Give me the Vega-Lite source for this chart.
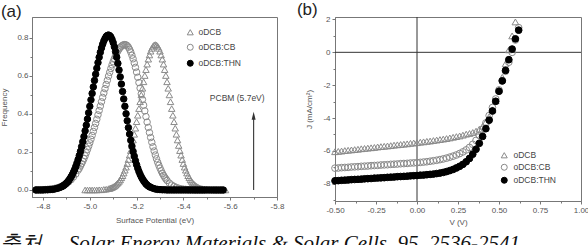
{
"$schema":"https://vega.github.io/schema/vega-lite/v6.json",
"padding":{"left":0,"top":0,"right":0,"bottom":0},
"background":"white",
"config":{
 "font":"Liberation Sans",
 "view":{"stroke":"#777","strokeWidth":1},
 "axis":{"labelFont":"Liberation Sans","labelFontSize":8,"labelColor":"#555","titleFont":"Liberation Sans","titleFontSize":8,"titleFontWeight":"normal","titleColor":"#555","tickColor":"#777","tickSize":3,"domainColor":"#777","grid":false,"labelPadding":2,"labelOverlap":false,"labelFlush":false,"labelExpr":"replace(datum.label, '\u2212', '-')"},
 "legend":{"padding":0,"labelFont":"Liberation Sans","labelFontSize":8.5,"labelColor":"#444"}
},
"datasets":{
"a":[
{"s":"oDCB","x":-4.98,"y":0},{"s":"oDCB","x":-4.99,"y":0},{"s":"oDCB","x":-5.0,"y":0},{"s":"oDCB","x":-5.01,"y":0},{"s":"oDCB","x":-5.02,"y":0},{"s":"oDCB","x":-5.03,"y":0},{"s":"oDCB","x":-5.04,"y":0.001},{"s":"oDCB","x":-5.05,"y":0.001},{"s":"oDCB","x":-5.06,"y":0.003},{"s":"oDCB","x":-5.07,"y":0.004},{"s":"oDCB","x":-5.08,"y":0.007},
{"s":"oDCB","x":-5.085,"y":0.008},{"s":"oDCB","x":-5.09,"y":0.011},{"s":"oDCB","x":-5.095,"y":0.013},{"s":"oDCB","x":-5.1,"y":0.017},{"s":"oDCB","x":-5.105,"y":0.02},{"s":"oDCB","x":-5.11,"y":0.025},{"s":"oDCB","x":-5.115,"y":0.031},{"s":"oDCB","x":-5.12,"y":0.037},{"s":"oDCB","x":-5.125,"y":0.045},{"s":"oDCB","x":-5.13,"y":0.053},{"s":"oDCB","x":-5.135,"y":0.064},{"s":"oDCB","x":-5.14,"y":0.075},{"s":"oDCB","x":-5.145,"y":0.089},{"s":"oDCB","x":-5.15,"y":0.104},{"s":"oDCB","x":-5.155,"y":0.12},{"s":"oDCB","x":-5.16,"y":0.139},{"s":"oDCB","x":-5.165,"y":0.16},{"s":"oDCB","x":-5.17,"y":0.183},{"s":"oDCB","x":-5.175,"y":0.207},{"s":"oDCB","x":-5.18,"y":0.234},{"s":"oDCB","x":-5.185,"y":0.263},{"s":"oDCB","x":-5.19,"y":0.293},{"s":"oDCB","x":-5.195,"y":0.325},{"s":"oDCB","x":-5.2,"y":0.359},{"s":"oDCB","x":-5.205,"y":0.393},{"s":"oDCB","x":-5.21,"y":0.428},{"s":"oDCB","x":-5.215,"y":0.464},{"s":"oDCB","x":-5.22,"y":0.5},{"s":"oDCB","x":-5.225,"y":0.535},{"s":"oDCB","x":-5.23,"y":0.569},{"s":"oDCB","x":-5.235,"y":0.602},{"s":"oDCB","x":-5.24,"y":0.633},{"s":"oDCB","x":-5.245,"y":0.662},{"s":"oDCB","x":-5.25,"y":0.688},{"s":"oDCB","x":-5.255,"y":0.71},{"s":"oDCB","x":-5.26,"y":0.73},{"s":"oDCB","x":-5.265,"y":0.745},{"s":"oDCB","x":-5.27,"y":0.756},{"s":"oDCB","x":-5.275,"y":0.763},{"s":"oDCB","x":-5.28,"y":0.765},
{"s":"oDCB","x":-5.285,"y":0.763},{"s":"oDCB","x":-5.29,"y":0.756},{"s":"oDCB","x":-5.295,"y":0.745},{"s":"oDCB","x":-5.3,"y":0.73},{"s":"oDCB","x":-5.305,"y":0.71},{"s":"oDCB","x":-5.31,"y":0.688},{"s":"oDCB","x":-5.315,"y":0.662},{"s":"oDCB","x":-5.32,"y":0.633},{"s":"oDCB","x":-5.325,"y":0.602},{"s":"oDCB","x":-5.33,"y":0.569},{"s":"oDCB","x":-5.335,"y":0.535},{"s":"oDCB","x":-5.34,"y":0.5},{"s":"oDCB","x":-5.345,"y":0.464},{"s":"oDCB","x":-5.35,"y":0.428},{"s":"oDCB","x":-5.355,"y":0.393},{"s":"oDCB","x":-5.36,"y":0.359},{"s":"oDCB","x":-5.365,"y":0.325},{"s":"oDCB","x":-5.37,"y":0.293},{"s":"oDCB","x":-5.375,"y":0.263},{"s":"oDCB","x":-5.38,"y":0.234},{"s":"oDCB","x":-5.385,"y":0.207},{"s":"oDCB","x":-5.39,"y":0.183},{"s":"oDCB","x":-5.395,"y":0.16},{"s":"oDCB","x":-5.4,"y":0.139},{"s":"oDCB","x":-5.405,"y":0.12},{"s":"oDCB","x":-5.41,"y":0.104},{"s":"oDCB","x":-5.415,"y":0.089},{"s":"oDCB","x":-5.42,"y":0.075},{"s":"oDCB","x":-5.425,"y":0.064},{"s":"oDCB","x":-5.43,"y":0.053},{"s":"oDCB","x":-5.435,"y":0.045},{"s":"oDCB","x":-5.44,"y":0.037},{"s":"oDCB","x":-5.445,"y":0.031},{"s":"oDCB","x":-5.45,"y":0.025},{"s":"oDCB","x":-5.455,"y":0.02},{"s":"oDCB","x":-5.46,"y":0.017},{"s":"oDCB","x":-5.465,"y":0.013},{"s":"oDCB","x":-5.47,"y":0.011},{"s":"oDCB","x":-5.475,"y":0.008},{"s":"oDCB","x":-5.48,"y":0.007},{"s":"oDCB","x":-5.49,"y":0.004},{"s":"oDCB","x":-5.5,"y":0.003},{"s":"oDCB","x":-5.51,"y":0.001},{"s":"oDCB","x":-5.52,"y":0.001},{"s":"oDCB","x":-5.53,"y":0},{"s":"oDCB","x":-5.54,"y":0},{"s":"oDCB","x":-5.55,"y":0},{"s":"oDCB","x":-5.56,"y":0},{"s":"oDCB","x":-5.57,"y":0},{"s":"oDCB","x":-5.58,"y":0},
{"s":"oDCB:CB","x":-4.77,"y":0},{"s":"oDCB:CB","x":-4.78,"y":0.001},{"s":"oDCB:CB","x":-4.79,"y":0.001},{"s":"oDCB:CB","x":-4.8,"y":0.002},{"s":"oDCB:CB","x":-4.81,"y":0.002},{"s":"oDCB:CB","x":-4.82,"y":0.003},{"s":"oDCB:CB","x":-4.83,"y":0.005},{"s":"oDCB:CB","x":-4.84,"y":0.006},{"s":"oDCB:CB","x":-4.85,"y":0.008},{"s":"oDCB:CB","x":-4.86,"y":0.011},{"s":"oDCB:CB","x":-4.87,"y":0.015},{"s":"oDCB:CB","x":-4.88,"y":0.02},{"s":"oDCB:CB","x":-4.89,"y":0.026},{"s":"oDCB:CB","x":-4.9,"y":0.034},{"s":"oDCB:CB","x":-4.91,"y":0.043},{"s":"oDCB:CB","x":-4.92,"y":0.054},{"s":"oDCB:CB","x":-4.93,"y":0.068},{"s":"oDCB:CB","x":-4.94,"y":0.084},{"s":"oDCB:CB","x":-4.95,"y":0.104},
{"s":"oDCB:CB","x":-4.955,"y":0.114},{"s":"oDCB:CB","x":-4.96,"y":0.126},{"s":"oDCB:CB","x":-4.965,"y":0.138},{"s":"oDCB:CB","x":-4.97,"y":0.151},{"s":"oDCB:CB","x":-4.975,"y":0.165},{"s":"oDCB:CB","x":-4.98,"y":0.18},{"s":"oDCB:CB","x":-4.985,"y":0.196},{"s":"oDCB:CB","x":-4.99,"y":0.213},{"s":"oDCB:CB","x":-4.995,"y":0.23},{"s":"oDCB:CB","x":-5.0,"y":0.248},{"s":"oDCB:CB","x":-5.005,"y":0.267},{"s":"oDCB:CB","x":-5.01,"y":0.287},{"s":"oDCB:CB","x":-5.015,"y":0.308},{"s":"oDCB:CB","x":-5.02,"y":0.329},{"s":"oDCB:CB","x":-5.025,"y":0.35},{"s":"oDCB:CB","x":-5.03,"y":0.372},{"s":"oDCB:CB","x":-5.035,"y":0.395},{"s":"oDCB:CB","x":-5.04,"y":0.418},{"s":"oDCB:CB","x":-5.045,"y":0.441},{"s":"oDCB:CB","x":-5.05,"y":0.464},{"s":"oDCB:CB","x":-5.055,"y":0.487},{"s":"oDCB:CB","x":-5.06,"y":0.51},{"s":"oDCB:CB","x":-5.065,"y":0.533},{"s":"oDCB:CB","x":-5.07,"y":0.555},{"s":"oDCB:CB","x":-5.075,"y":0.577},{"s":"oDCB:CB","x":-5.08,"y":0.599},{"s":"oDCB:CB","x":-5.085,"y":0.619},{"s":"oDCB:CB","x":-5.09,"y":0.639},{"s":"oDCB:CB","x":-5.095,"y":0.658},{"s":"oDCB:CB","x":-5.1,"y":0.675},{"s":"oDCB:CB","x":-5.105,"y":0.691},{"s":"oDCB:CB","x":-5.11,"y":0.706},{"s":"oDCB:CB","x":-5.115,"y":0.72},{"s":"oDCB:CB","x":-5.12,"y":0.731},{"s":"oDCB:CB","x":-5.125,"y":0.741},{"s":"oDCB:CB","x":-5.13,"y":0.75},{"s":"oDCB:CB","x":-5.135,"y":0.756},{"s":"oDCB:CB","x":-5.14,"y":0.761},{"s":"oDCB:CB","x":-5.145,"y":0.764},{"s":"oDCB:CB","x":-5.15,"y":0.765},
{"s":"oDCB:CB","x":-5.155,"y":0.763},{"s":"oDCB:CB","x":-5.16,"y":0.759},{"s":"oDCB:CB","x":-5.165,"y":0.751},{"s":"oDCB:CB","x":-5.17,"y":0.74},{"s":"oDCB:CB","x":-5.175,"y":0.726},{"s":"oDCB:CB","x":-5.18,"y":0.709},{"s":"oDCB:CB","x":-5.185,"y":0.69},{"s":"oDCB:CB","x":-5.19,"y":0.668},{"s":"oDCB:CB","x":-5.195,"y":0.645},{"s":"oDCB:CB","x":-5.2,"y":0.62},{"s":"oDCB:CB","x":-5.205,"y":0.593},{"s":"oDCB:CB","x":-5.21,"y":0.565},{"s":"oDCB:CB","x":-5.215,"y":0.536},{"s":"oDCB:CB","x":-5.22,"y":0.506},{"s":"oDCB:CB","x":-5.225,"y":0.476},{"s":"oDCB:CB","x":-5.23,"y":0.446},{"s":"oDCB:CB","x":-5.235,"y":0.416},{"s":"oDCB:CB","x":-5.24,"y":0.386},{"s":"oDCB:CB","x":-5.245,"y":0.357},{"s":"oDCB:CB","x":-5.25,"y":0.329},{"s":"oDCB:CB","x":-5.255,"y":0.302},{"s":"oDCB:CB","x":-5.26,"y":0.276},{"s":"oDCB:CB","x":-5.265,"y":0.251},{"s":"oDCB:CB","x":-5.27,"y":0.227},{"s":"oDCB:CB","x":-5.275,"y":0.205},{"s":"oDCB:CB","x":-5.28,"y":0.184},{"s":"oDCB:CB","x":-5.285,"y":0.164},{"s":"oDCB:CB","x":-5.29,"y":0.146},{"s":"oDCB:CB","x":-5.295,"y":0.13},{"s":"oDCB:CB","x":-5.3,"y":0.115},{"s":"oDCB:CB","x":-5.305,"y":0.101},{"s":"oDCB:CB","x":-5.31,"y":0.088},{"s":"oDCB:CB","x":-5.315,"y":0.077},{"s":"oDCB:CB","x":-5.32,"y":0.067},{"s":"oDCB:CB","x":-5.325,"y":0.058},{"s":"oDCB:CB","x":-5.33,"y":0.05},{"s":"oDCB:CB","x":-5.34,"y":0.036},{"s":"oDCB:CB","x":-5.35,"y":0.026},{"s":"oDCB:CB","x":-5.36,"y":0.019},{"s":"oDCB:CB","x":-5.37,"y":0.013},{"s":"oDCB:CB","x":-5.38,"y":0.009},{"s":"oDCB:CB","x":-5.39,"y":0.006},{"s":"oDCB:CB","x":-5.4,"y":0.004},{"s":"oDCB:CB","x":-5.41,"y":0.003},{"s":"oDCB:CB","x":-5.42,"y":0.002},{"s":"oDCB:CB","x":-5.43,"y":0.001},{"s":"oDCB:CB","x":-5.44,"y":0.001},{"s":"oDCB:CB","x":-5.45,"y":0},{"s":"oDCB:CB","x":-5.46,"y":0},{"s":"oDCB:CB","x":-5.47,"y":0},{"s":"oDCB:CB","x":-5.48,"y":0},{"s":"oDCB:CB","x":-5.49,"y":0},
{"s":"oDCB:THN","x":-4.77,"y":0},{"s":"oDCB:THN","x":-4.78,"y":0},{"s":"oDCB:THN","x":-4.79,"y":0},{"s":"oDCB:THN","x":-4.8,"y":0},{"s":"oDCB:THN","x":-4.81,"y":0.001},{"s":"oDCB:THN","x":-4.82,"y":0.001},{"s":"oDCB:THN","x":-4.83,"y":0.002},{"s":"oDCB:THN","x":-4.84,"y":0.003},{"s":"oDCB:THN","x":-4.85,"y":0.005},{"s":"oDCB:THN","x":-4.86,"y":0.008},{"s":"oDCB:THN","x":-4.87,"y":0.012},{"s":"oDCB:THN","x":-4.88,"y":0.017},
{"s":"oDCB:THN","x":-4.885,"y":0.021},{"s":"oDCB:THN","x":-4.89,"y":0.025},{"s":"oDCB:THN","x":-4.895,"y":0.03},{"s":"oDCB:THN","x":-4.9,"y":0.036},{"s":"oDCB:THN","x":-4.905,"y":0.042},{"s":"oDCB:THN","x":-4.91,"y":0.05},{"s":"oDCB:THN","x":-4.915,"y":0.059},{"s":"oDCB:THN","x":-4.92,"y":0.069},{"s":"oDCB:THN","x":-4.925,"y":0.08},{"s":"oDCB:THN","x":-4.93,"y":0.093},{"s":"oDCB:THN","x":-4.935,"y":0.107},{"s":"oDCB:THN","x":-4.94,"y":0.123},{"s":"oDCB:THN","x":-4.945,"y":0.141},{"s":"oDCB:THN","x":-4.95,"y":0.16},{"s":"oDCB:THN","x":-4.955,"y":0.181},{"s":"oDCB:THN","x":-4.96,"y":0.203},{"s":"oDCB:THN","x":-4.965,"y":0.228},{"s":"oDCB:THN","x":-4.97,"y":0.254},{"s":"oDCB:THN","x":-4.975,"y":0.281},{"s":"oDCB:THN","x":-4.98,"y":0.311},{"s":"oDCB:THN","x":-4.985,"y":0.341},{"s":"oDCB:THN","x":-4.99,"y":0.373},{"s":"oDCB:THN","x":-4.995,"y":0.406},{"s":"oDCB:THN","x":-5.0,"y":0.44},{"s":"oDCB:THN","x":-5.005,"y":0.474},{"s":"oDCB:THN","x":-5.01,"y":0.508},{"s":"oDCB:THN","x":-5.015,"y":0.542},{"s":"oDCB:THN","x":-5.02,"y":0.576},{"s":"oDCB:THN","x":-5.025,"y":0.609},{"s":"oDCB:THN","x":-5.03,"y":0.64},{"s":"oDCB:THN","x":-5.035,"y":0.67},{"s":"oDCB:THN","x":-5.04,"y":0.698},{"s":"oDCB:THN","x":-5.045,"y":0.724},{"s":"oDCB:THN","x":-5.05,"y":0.747},{"s":"oDCB:THN","x":-5.055,"y":0.767},{"s":"oDCB:THN","x":-5.06,"y":0.784},{"s":"oDCB:THN","x":-5.065,"y":0.797},{"s":"oDCB:THN","x":-5.07,"y":0.807},{"s":"oDCB:THN","x":-5.075,"y":0.813},{"s":"oDCB:THN","x":-5.08,"y":0.815},
{"s":"oDCB:THN","x":-5.085,"y":0.812},{"s":"oDCB:THN","x":-5.09,"y":0.805},{"s":"oDCB:THN","x":-5.095,"y":0.792},{"s":"oDCB:THN","x":-5.1,"y":0.775},{"s":"oDCB:THN","x":-5.105,"y":0.753},{"s":"oDCB:THN","x":-5.11,"y":0.728},{"s":"oDCB:THN","x":-5.115,"y":0.698},{"s":"oDCB:THN","x":-5.12,"y":0.666},{"s":"oDCB:THN","x":-5.125,"y":0.631},{"s":"oDCB:THN","x":-5.13,"y":0.595},{"s":"oDCB:THN","x":-5.135,"y":0.557},{"s":"oDCB:THN","x":-5.14,"y":0.518},{"s":"oDCB:THN","x":-5.145,"y":0.479},{"s":"oDCB:THN","x":-5.15,"y":0.44},{"s":"oDCB:THN","x":-5.155,"y":0.401},{"s":"oDCB:THN","x":-5.16,"y":0.364},{"s":"oDCB:THN","x":-5.165,"y":0.328},{"s":"oDCB:THN","x":-5.17,"y":0.294},{"s":"oDCB:THN","x":-5.175,"y":0.261},{"s":"oDCB:THN","x":-5.18,"y":0.231},{"s":"oDCB:THN","x":-5.185,"y":0.203},{"s":"oDCB:THN","x":-5.19,"y":0.178},{"s":"oDCB:THN","x":-5.195,"y":0.154},{"s":"oDCB:THN","x":-5.2,"y":0.133},{"s":"oDCB:THN","x":-5.205,"y":0.114},{"s":"oDCB:THN","x":-5.21,"y":0.097},{"s":"oDCB:THN","x":-5.215,"y":0.082},{"s":"oDCB:THN","x":-5.22,"y":0.069},{"s":"oDCB:THN","x":-5.225,"y":0.058},{"s":"oDCB:THN","x":-5.23,"y":0.048},{"s":"oDCB:THN","x":-5.235,"y":0.04},{"s":"oDCB:THN","x":-5.24,"y":0.032},{"s":"oDCB:THN","x":-5.245,"y":0.026},{"s":"oDCB:THN","x":-5.25,"y":0.021},{"s":"oDCB:THN","x":-5.255,"y":0.017},{"s":"oDCB:THN","x":-5.26,"y":0.014},{"s":"oDCB:THN","x":-5.27,"y":0.009},{"s":"oDCB:THN","x":-5.28,"y":0.005},{"s":"oDCB:THN","x":-5.29,"y":0.003},{"s":"oDCB:THN","x":-5.3,"y":0.002},{"s":"oDCB:THN","x":-5.31,"y":0.001},{"s":"oDCB:THN","x":-5.32,"y":0.001},{"s":"oDCB:THN","x":-5.33,"y":0},{"s":"oDCB:THN","x":-5.34,"y":0},{"s":"oDCB:THN","x":-5.35,"y":0},{"s":"oDCB:THN","x":-5.36,"y":0},{"s":"oDCB:THN","x":-5.37,"y":0},{"s":"oDCB:THN","x":-5.38,"y":0},{"s":"oDCB:THN","x":-5.39,"y":0},{"s":"oDCB:THN","x":-5.4,"y":0},{"s":"oDCB:THN","x":-5.41,"y":0},{"s":"oDCB:THN","x":-5.42,"y":0},{"s":"oDCB:THN","x":-5.43,"y":0},{"s":"oDCB:THN","x":-5.44,"y":0},{"s":"oDCB:THN","x":-5.45,"y":0},{"s":"oDCB:THN","x":-5.46,"y":0},{"s":"oDCB:THN","x":-5.47,"y":0},{"s":"oDCB:THN","x":-5.48,"y":0},{"s":"oDCB:THN","x":-5.49,"y":0},{"s":"oDCB:THN","x":-5.5,"y":0},{"s":"oDCB:THN","x":-5.51,"y":0},{"s":"oDCB:THN","x":-5.52,"y":0},{"s":"oDCB:THN","x":-5.53,"y":0},{"s":"oDCB:THN","x":-5.54,"y":0},{"s":"oDCB:THN","x":-5.55,"y":0},{"s":"oDCB:THN","x":-5.56,"y":0},{"s":"oDCB:THN","x":-5.57,"y":0}
],
"b":[
{"s":"oDCB","x":-0.5,"y":-6.05},{"s":"oDCB","x":-0.48,"y":-6.03},{"s":"oDCB","x":-0.46,"y":-6.01},{"s":"oDCB","x":-0.44,"y":-5.98},{"s":"oDCB","x":-0.42,"y":-5.96},{"s":"oDCB","x":-0.4,"y":-5.94},{"s":"oDCB","x":-0.38,"y":-5.92},{"s":"oDCB","x":-0.36,"y":-5.9},{"s":"oDCB","x":-0.34,"y":-5.87},{"s":"oDCB","x":-0.32,"y":-5.85},{"s":"oDCB","x":-0.3,"y":-5.83},{"s":"oDCB","x":-0.28,"y":-5.81},{"s":"oDCB","x":-0.26,"y":-5.79},{"s":"oDCB","x":-0.24,"y":-5.76},{"s":"oDCB","x":-0.22,"y":-5.74},{"s":"oDCB","x":-0.2,"y":-5.72},{"s":"oDCB","x":-0.18,"y":-5.7},{"s":"oDCB","x":-0.16,"y":-5.68},{"s":"oDCB","x":-0.14,"y":-5.65},{"s":"oDCB","x":-0.12,"y":-5.63},{"s":"oDCB","x":-0.1,"y":-5.61},{"s":"oDCB","x":-0.08,"y":-5.59},{"s":"oDCB","x":-0.06,"y":-5.57},{"s":"oDCB","x":-0.04,"y":-5.54},{"s":"oDCB","x":-0.02,"y":-5.52},{"s":"oDCB","x":0,"y":-5.5},{"s":"oDCB","x":0.02,"y":-5.47},{"s":"oDCB","x":0.04,"y":-5.45},{"s":"oDCB","x":0.06,"y":-5.42},{"s":"oDCB","x":0.08,"y":-5.4},{"s":"oDCB","x":0.1,"y":-5.37},{"s":"oDCB","x":0.12,"y":-5.34},{"s":"oDCB","x":0.14,"y":-5.31},{"s":"oDCB","x":0.16,"y":-5.28},{"s":"oDCB","x":0.18,"y":-5.25},{"s":"oDCB","x":0.2,"y":-5.21},{"s":"oDCB","x":0.22,"y":-5.17},{"s":"oDCB","x":0.24,"y":-5.13},{"s":"oDCB","x":0.26,"y":-5.09},{"s":"oDCB","x":0.28,"y":-5.04},{"s":"oDCB","x":0.3,"y":-4.98},{"s":"oDCB","x":0.32,"y":-4.94},{"s":"oDCB","x":0.34,"y":-4.88},{"s":"oDCB","x":0.36,"y":-4.8},{"s":"oDCB","x":0.38,"y":-4.68},{"s":"oDCB","x":0.4,"y":-4.5},{"s":"oDCB","x":0.42,"y":-4.25},{"s":"oDCB","x":0.44,"y":-3.92},{"s":"oDCB","x":0.46,"y":-3.5},{"s":"oDCB","x":0.48,"y":-2.95},{"s":"oDCB","x":0.5,"y":-2.3},{"s":"oDCB","x":0.52,"y":-1.52},{"s":"oDCB","x":0.54,"y":-0.7},{"s":"oDCB","x":0.56,"y":0.15},{"s":"oDCB","x":0.58,"y":1.0},{"s":"oDCB","x":0.6,"y":1.85},
{"s":"oDCB:CB","x":-0.5,"y":-7.05},{"s":"oDCB:CB","x":-0.48,"y":-7.04},{"s":"oDCB:CB","x":-0.46,"y":-7.02},{"s":"oDCB:CB","x":-0.44,"y":-7.01},{"s":"oDCB:CB","x":-0.42,"y":-7.0},{"s":"oDCB:CB","x":-0.4,"y":-6.98},{"s":"oDCB:CB","x":-0.38,"y":-6.97},{"s":"oDCB:CB","x":-0.36,"y":-6.96},{"s":"oDCB:CB","x":-0.34,"y":-6.94},{"s":"oDCB:CB","x":-0.32,"y":-6.93},{"s":"oDCB:CB","x":-0.3,"y":-6.92},{"s":"oDCB:CB","x":-0.28,"y":-6.9},{"s":"oDCB:CB","x":-0.26,"y":-6.89},{"s":"oDCB:CB","x":-0.24,"y":-6.88},{"s":"oDCB:CB","x":-0.22,"y":-6.86},{"s":"oDCB:CB","x":-0.2,"y":-6.85},{"s":"oDCB:CB","x":-0.18,"y":-6.84},{"s":"oDCB:CB","x":-0.16,"y":-6.82},{"s":"oDCB:CB","x":-0.14,"y":-6.81},{"s":"oDCB:CB","x":-0.12,"y":-6.8},{"s":"oDCB:CB","x":-0.1,"y":-6.78},{"s":"oDCB:CB","x":-0.08,"y":-6.77},{"s":"oDCB:CB","x":-0.06,"y":-6.76},{"s":"oDCB:CB","x":-0.04,"y":-6.74},{"s":"oDCB:CB","x":-0.02,"y":-6.73},{"s":"oDCB:CB","x":0,"y":-6.72},{"s":"oDCB:CB","x":0.02,"y":-6.7},{"s":"oDCB:CB","x":0.04,"y":-6.68},{"s":"oDCB:CB","x":0.06,"y":-6.66},{"s":"oDCB:CB","x":0.08,"y":-6.63},{"s":"oDCB:CB","x":0.1,"y":-6.6},{"s":"oDCB:CB","x":0.12,"y":-6.57},{"s":"oDCB:CB","x":0.14,"y":-6.53},{"s":"oDCB:CB","x":0.16,"y":-6.49},{"s":"oDCB:CB","x":0.18,"y":-6.44},{"s":"oDCB:CB","x":0.2,"y":-6.38},{"s":"oDCB:CB","x":0.22,"y":-6.32},{"s":"oDCB:CB","x":0.24,"y":-6.25},{"s":"oDCB:CB","x":0.26,"y":-6.16},{"s":"oDCB:CB","x":0.28,"y":-6.06},{"s":"oDCB:CB","x":0.3,"y":-5.94},{"s":"oDCB:CB","x":0.32,"y":-5.79},{"s":"oDCB:CB","x":0.34,"y":-5.6},{"s":"oDCB:CB","x":0.36,"y":-5.36},{"s":"oDCB:CB","x":0.38,"y":-5.06},{"s":"oDCB:CB","x":0.4,"y":-4.7},{"s":"oDCB:CB","x":0.42,"y":-4.3},{"s":"oDCB:CB","x":0.44,"y":-3.85},{"s":"oDCB:CB","x":0.46,"y":-3.36},{"s":"oDCB:CB","x":0.48,"y":-2.84},{"s":"oDCB:CB","x":0.5,"y":-2.29},{"s":"oDCB:CB","x":0.52,"y":-1.72},{"s":"oDCB:CB","x":0.54,"y":-1.15},{"s":"oDCB:CB","x":0.56,"y":-0.6},{"s":"oDCB:CB","x":0.58,"y":0.0},{"s":"oDCB:CB","x":0.6,"y":0.75},{"s":"oDCB:CB","x":0.62,"y":1.5},
{"s":"oDCB:THN","x":-0.5,"y":-7.82},{"s":"oDCB:THN","x":-0.48,"y":-7.81},{"s":"oDCB:THN","x":-0.46,"y":-7.79},{"s":"oDCB:THN","x":-0.44,"y":-7.78},{"s":"oDCB:THN","x":-0.42,"y":-7.77},{"s":"oDCB:THN","x":-0.4,"y":-7.75},{"s":"oDCB:THN","x":-0.38,"y":-7.74},{"s":"oDCB:THN","x":-0.36,"y":-7.73},{"s":"oDCB:THN","x":-0.34,"y":-7.72},{"s":"oDCB:THN","x":-0.32,"y":-7.7},{"s":"oDCB:THN","x":-0.3,"y":-7.69},{"s":"oDCB:THN","x":-0.28,"y":-7.68},{"s":"oDCB:THN","x":-0.26,"y":-7.66},{"s":"oDCB:THN","x":-0.24,"y":-7.65},{"s":"oDCB:THN","x":-0.22,"y":-7.64},{"s":"oDCB:THN","x":-0.2,"y":-7.63},{"s":"oDCB:THN","x":-0.18,"y":-7.61},{"s":"oDCB:THN","x":-0.16,"y":-7.6},{"s":"oDCB:THN","x":-0.14,"y":-7.59},{"s":"oDCB:THN","x":-0.12,"y":-7.57},{"s":"oDCB:THN","x":-0.1,"y":-7.56},{"s":"oDCB:THN","x":-0.08,"y":-7.55},{"s":"oDCB:THN","x":-0.06,"y":-7.54},{"s":"oDCB:THN","x":-0.04,"y":-7.52},{"s":"oDCB:THN","x":-0.02,"y":-7.51},{"s":"oDCB:THN","x":0,"y":-7.5},{"s":"oDCB:THN","x":0.02,"y":-7.48},{"s":"oDCB:THN","x":0.04,"y":-7.47},{"s":"oDCB:THN","x":0.06,"y":-7.45},{"s":"oDCB:THN","x":0.08,"y":-7.43},{"s":"oDCB:THN","x":0.1,"y":-7.41},{"s":"oDCB:THN","x":0.12,"y":-7.38},{"s":"oDCB:THN","x":0.14,"y":-7.35},{"s":"oDCB:THN","x":0.16,"y":-7.31},{"s":"oDCB:THN","x":0.18,"y":-7.26},{"s":"oDCB:THN","x":0.2,"y":-7.2},{"s":"oDCB:THN","x":0.22,"y":-7.13},{"s":"oDCB:THN","x":0.24,"y":-7.04},{"s":"oDCB:THN","x":0.26,"y":-6.94},{"s":"oDCB:THN","x":0.28,"y":-6.82},{"s":"oDCB:THN","x":0.3,"y":-6.66},{"s":"oDCB:THN","x":0.32,"y":-6.46},{"s":"oDCB:THN","x":0.34,"y":-6.2},{"s":"oDCB:THN","x":0.36,"y":-5.9},{"s":"oDCB:THN","x":0.38,"y":-5.54},{"s":"oDCB:THN","x":0.4,"y":-5.12},{"s":"oDCB:THN","x":0.42,"y":-4.65},{"s":"oDCB:THN","x":0.44,"y":-4.13},{"s":"oDCB:THN","x":0.46,"y":-3.57},{"s":"oDCB:THN","x":0.48,"y":-2.98},{"s":"oDCB:THN","x":0.5,"y":-2.37},{"s":"oDCB:THN","x":0.52,"y":-1.74},{"s":"oDCB:THN","x":0.54,"y":-1.1},{"s":"oDCB:THN","x":0.56,"y":-0.45},{"s":"oDCB:THN","x":0.58,"y":0.2},{"s":"oDCB:THN","x":0.6,"y":0.82},{"s":"oDCB:THN","x":0.62,"y":1.35}
]
},
"bounds":"flush",
"spacing":58,
"title":{"text":"출처\u3000 Solar Energy Materials & Solar Cells, 95, 2536-2541","orient":"bottom","anchor":"start","frame":"bounds","font":"Liberation Serif","fontStyle":"italic","fontWeight":"normal","fontSize":21,"color":"#111","offset":6},
"resolve":{"scale":{"shape":"independent","fill":"independent","stroke":"independent"},"legend":{"shape":"independent","fill":"independent","stroke":"independent"}},
"hconcat":[
{
 "width":245,"height":180,
 "title":{"text":"(a)","anchor":"start","frame":"bounds","fontSize":17,"fontWeight":"normal","color":"#222","font":"Liberation Sans","offset":-4},
 "resolve":{"axis":{"x":"independent","y":"independent"}},
 "layer":[
  {"data":{"name":"a"},
   "mark":{"type":"point","filled":true,"size":42,"strokeWidth":1,"opacity":1},
   "encoding":{
    "x":{"field":"x","type":"quantitative","scale":{"domain":[-5.8,-4.753],"reverse":true,"nice":false,"zero":false},"axis":{"orient":"bottom","title":"Surface Potential (eV)","values":[-4.8,-5.0,-5.2,-5.4,-5.6,-5.8],"format":".1f","titlePadding":6}},
    "y":{"field":"y","type":"quantitative","scale":{"domain":[-0.037,0.91],"nice":false,"zero":false},"axis":{"orient":"left","title":"Frequency","values":[0,0.2,0.4,0.6,0.8],"format":".1f","titlePadding":8,"labelPadding":1}},
    "shape":{"field":"s","type":"nominal","scale":{"domain":["oDCB","oDCB:CB","oDCB:THN"],"range":["triangle-up","circle","circle"]},"legend":{"title":null,"orient":"none","legendX":154,"legendY":11,"rowPadding":5,"symbolSize":36,"labelOffset":4,"symbolStrokeWidth":1}},
    "fill":{"field":"s","type":"nominal","scale":{"domain":["oDCB","oDCB:CB","oDCB:THN"],"range":["transparent","transparent","#000000"]},"legend":{"title":null,"orient":"none","legendX":154,"legendY":11,"rowPadding":5,"symbolSize":36,"labelOffset":4,"symbolStrokeWidth":1}},
    "stroke":{"field":"s","type":"nominal","scale":{"domain":["oDCB","oDCB:CB","oDCB:THN"],"range":["#8a8a8a","#8a8a8a","#000000"]},"legend":{"title":null,"orient":"none","legendX":154,"legendY":11,"rowPadding":5,"symbolSize":36,"labelOffset":4,"symbolStrokeWidth":1}}
   }
  },
  {"data":{"values":[{"x":-5.7,"y":0,"y2":0.39}]},
   "mark":{"type":"rule","color":"#444","strokeWidth":1.2},
   "encoding":{"x":{"field":"x","type":"quantitative","axis":{"orient":"bottom","values":[-4.9,-5.1,-5.3,-5.5,-5.7],"labels":false,"title":null,"domain":false,"tickSize":2}},"y":{"field":"y","type":"quantitative","axis":{"orient":"left","values":[0.1,0.3,0.5,0.7],"labels":false,"title":null,"domain":false,"tickSize":2}},"y2":{"field":"y2"}}},
  {"data":{"values":[{"x":-5.7,"y":0.39}]},
   "mark":{"type":"point","shape":"M-0.5,1L0,-1L0.5,1Z","size":64,"filled":true,"color":"#333","opacity":1},
   "encoding":{"x":{"field":"x","type":"quantitative","axis":null},"y":{"field":"y","type":"quantitative","axis":null}}},
  {"data":{"values":[{"x":-5.63,"y":0.485,"t":"PCBM (5.7eV)"}]},
   "mark":{"type":"text","fontSize":8.5,"color":"#444","font":"Liberation Sans","align":"center","baseline":"middle"},
   "encoding":{"x":{"field":"x","type":"quantitative","axis":null},"y":{"field":"y","type":"quantitative","axis":null},"text":{"field":"t"}}}
 ]
},
{
 "width":246,"height":184,
 "title":{"text":"(b)","anchor":"start","frame":"bounds","fontSize":17,"fontWeight":"normal","color":"#222","font":"Liberation Sans","offset":-4,"dx":-9},
 "resolve":{"axis":{"x":"independent","y":"independent"}},
 "layer":[
  {"data":{"values":[{"x":0}]},
   "mark":{"type":"rule","color":"#333","strokeWidth":1},
   "encoding":{"x":{"field":"x","type":"quantitative","axis":{"orient":"bottom","values":[-0.375,-0.125,0.125,0.375,0.625,0.875],"labels":false,"title":null,"domain":false,"tickSize":2}}}},
  {"data":{"values":[{"y":0}]},
   "mark":{"type":"rule","color":"#333","strokeWidth":1},
   "encoding":{"y":{"field":"y","type":"quantitative","axis":{"orient":"left","values":[-9,-7,-5,-3,-1,1],"labels":false,"title":null,"domain":false,"tickSize":2}}}},
  {"data":{"name":"b"},
   "mark":{"type":"point","filled":true,"size":45,"strokeWidth":1,"opacity":1},
   "encoding":{
    "x":{"field":"x","type":"quantitative","scale":{"domain":[-0.5,1.0],"nice":false,"zero":false},"axis":{"orient":"bottom","title":"V (V)","values":[-0.5,-0.25,0,0.25,0.5,0.75,1.0],"format":".2f","titlePadding":4,"labelOverlap":false}},
    "y":{"field":"y","type":"quantitative","scale":{"domain":[-9.05,2.15],"nice":false,"zero":false},"axis":{"orient":"left","title":"J (mA/cm²)","values":[-8,-6,-4,-2,0,2],"format":"d","titlePadding":9,"labelOverlap":false}},
    "shape":{"field":"s","type":"nominal","scale":{"domain":["oDCB","oDCB:CB","oDCB:THN"],"range":["triangle-up","circle","circle"]},"legend":{"title":null,"orient":"none","legendX":165,"legendY":134,"rowPadding":2,"symbolSize":36,"labelOffset":5,"symbolStrokeWidth":1}},
    "fill":{"field":"s","type":"nominal","scale":{"domain":["oDCB","oDCB:CB","oDCB:THN"],"range":["transparent","transparent","#000000"]},"legend":{"title":null,"orient":"none","legendX":165,"legendY":134,"rowPadding":2,"symbolSize":36,"labelOffset":5,"symbolStrokeWidth":1}},
    "stroke":{"field":"s","type":"nominal","scale":{"domain":["oDCB","oDCB:CB","oDCB:THN"],"range":["#8a8a8a","#8a8a8a","#000000"]},"legend":{"title":null,"orient":"none","legendX":165,"legendY":134,"rowPadding":2,"symbolSize":36,"labelOffset":5,"symbolStrokeWidth":1}}
   }
  }
 ]
}
]
}
